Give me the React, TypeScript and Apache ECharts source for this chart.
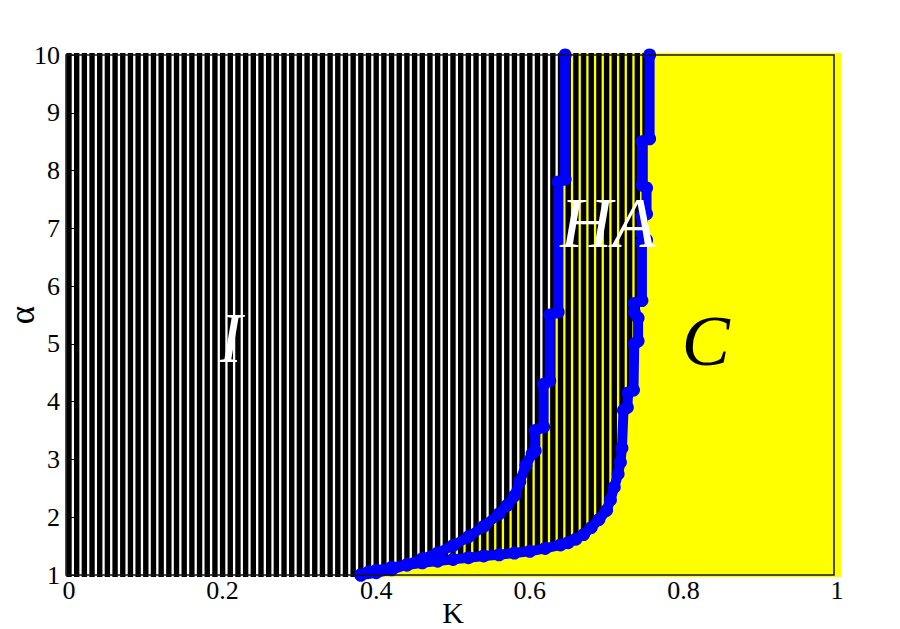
import React, { useEffect, useRef } from "react";
import * as echarts from "echarts";

// ---- data ----
const K_MIN = 0;
const K_MAX = 1;
const ALPHA_MIN = 1;
const ALPHA_MAX = 10;
const K_STEP = 0.01; // sampling step of the K grid (one stripe per sample)
const K_SAMPLES = 101;

// Left boundary (I | HA)
const leftK = [0.38, 0.40, 0.42, 0.44, 0.46, 0.48, 0.50, 0.52, 0.54, 0.56, 0.57, 0.58, 0.587, 0.595, 0.603, 0.607, 0.607, 0.618, 0.618, 0.626, 0.626, 0.637, 0.637, 0.646, 0.646];
const leftAlpha = [1.0, 1.04, 1.09, 1.18, 1.28, 1.38, 1.51, 1.66, 1.84, 2.06, 2.2, 2.37, 2.62, 2.9, 3.1, 3.15, 3.5, 3.56, 4.3, 4.36, 5.5, 5.55, 7.8, 7.85, 10];

// Right boundary (HA | C)
const rightK = [0.38, 0.39, 0.40, 0.42, 0.44, 0.46, 0.48, 0.50, 0.52, 0.54, 0.56, 0.58, 0.60, 0.62, 0.64, 0.65, 0.66, 0.67, 0.68, 0.69, 0.70, 0.705, 0.71, 0.715, 0.718, 0.72, 0.722, 0.727, 0.728, 0.735, 0.736, 0.741, 0.741, 0.736, 0.736, 0.746, 0.746, 0.752, 0.746, 0.746, 0.752, 0.752, 0.746, 0.746, 0.756, 0.756];
const rightAlpha = [1.0, 1.05, 1.08, 1.13, 1.17, 1.21, 1.24, 1.27, 1.30, 1.33, 1.35, 1.38, 1.41, 1.46, 1.52, 1.56, 1.62, 1.70, 1.82, 1.96, 2.12, 2.30, 2.52, 2.75, 2.95, 3.2, 3.85, 3.9, 4.15, 4.2, 5.0, 5.05, 5.45, 5.55, 5.7, 5.75, 6.75, 6.8, 6.9, 7.2, 7.25, 7.7, 7.75, 8.5, 8.55, 10];

// Region labels
const regionText = ["I", "HA", "C"];
const regionK = [0.21, 0.702, 0.829];
const regionAlpha = [5.1, 7.1, 5.05];

const xTickInterval = 0.2;
const yTickInterval = 1;

// ---- derived stripes ----
const kGrid = Array.from({ length: K_SAMPLES }, (_, i) => i / 100);

function blackBottom(k: number): number | null {
  if (k < rightK[0]) return ALPHA_MIN;
  for (let i = 0; i < rightK.length - 1; i++) {
    const a = rightK[i], b = rightK[i + 1];
    if (a <= k && b > k) {
      return rightAlpha[i] + ((k - a) / (b - a)) * (rightAlpha[i + 1] - rightAlpha[i]);
    }
  }
  return null;
}

function yellowTop(k: number): number | null {
  if (k <= leftK[0]) return null;
  for (let i = 0; i < leftK.length - 1; i++) {
    const a = leftK[i], b = leftK[i + 1];
    if (a < k && b >= k) {
      return leftAlpha[i] + ((k - a) / (b - a)) * (leftAlpha[i + 1] - leftAlpha[i]);
    }
  }
  return ALPHA_MAX;
}

const yellowStripes: number[][] = [];
const blackStripes: number[][] = [];
kGrid.forEach((k) => {
  const yt = yellowTop(k);
  if (yt !== null && yt > ALPHA_MIN) yellowStripes.push([k, ALPHA_MIN, yt]);
  const bb = blackBottom(k);
  if (bb !== null && bb < ALPHA_MAX) blackStripes.push([k, bb, ALPHA_MAX]);
});

const makeStripe = (fill: string, widthFrac: number, extra: number) => (params: any, api: any) => {
  const k = api.value(0);
  const lo = api.value(1);
  const hi = api.value(2);
  const pLo = api.coord([k, lo]);
  const pHi = api.coord([k, hi]);
  const w = api.size([K_STEP, 0])[0] * widthFrac + extra;
  const padB = lo <= ALPHA_MIN ? 2 : 0;
  const padT = hi >= ALPHA_MAX ? 2 : 0;
  return {
    type: "rect",
    shape: { x: pLo[0] - w / 2, y: pHi[1] - padT, width: w, height: pLo[1] - pHi[1] + padT + padB },
    style: { fill },
  };
};

const SERIF = "Liberation Serif";

export default function App() {
  const ref = useRef<HTMLDivElement>(null);
  useEffect(() => {
    if (!ref.current) return;
    const chart = echarts.init(ref.current, undefined, { renderer: "svg" });
    chart.setOption({
      animation: false,
      backgroundColor: "#ffffff",
      grid: { left: 69, top: 55, width: 768, height: 520, containLabel: false, outerBoundsMode: "none" },
      xAxis: {
        type: "value",
        min: K_MIN,
        max: K_MAX,
        interval: xTickInterval,
        name: "K",
        nameLocation: "middle",
        nameGap: 22,
        nameMoveOverlap: false,
        nameTextStyle: { fontFamily: SERIF, fontSize: 30, color: "#000", verticalAlign: "top" },
        axisLine: { show: false },
        axisTick: { show: true, inside: true, length: 5, lineStyle: { color: "#000" } },
        splitLine: { show: false },
        axisLabel: { fontFamily: SERIF, fontSize: 26, color: "#000", margin: 2 },
      },
      yAxis: {
        type: "value",
        min: ALPHA_MIN,
        max: ALPHA_MAX,
        interval: yTickInterval,
        name: "α",
        nameLocation: "middle",
        nameGap: 29,
        nameRotate: 90,
        nameMoveOverlap: false,
        nameTextStyle: { fontFamily: SERIF, fontSize: 35, color: "#000" },
        axisLine: { show: false },
        axisTick: { show: true, inside: true, length: 5, lineStyle: { color: "#000" } },
        splitLine: { show: false },
        axisLabel: { fontFamily: SERIF, fontSize: 26, color: "#000", margin: 9 },
      },
      graphic: [
        {
          type: "rect",
          z: 100,
          silent: true,
          shape: { x: 66, y: 55, width: 768, height: 520 },
          style: { fill: "transparent", stroke: "#151515", lineWidth: 1.5 },
        },
      ],
      series: [
        {
          type: "custom",
          name: "C",
          data: yellowStripes,
          encode: { x: 0, y: [1, 2] },
          renderItem: makeStripe("#ffff00", 1, 0.8),
          z: 1,
          silent: true,
        },
        {
          type: "custom",
          name: "I",
          data: blackStripes,
          encode: { x: 0, y: [1, 2] },
          renderItem: makeStripe("#000000", 0.7, 0),
          z: 2,
          silent: true,
        },
        {
          type: "line",
          name: "right",
          data: rightK.map((k, i) => [k, rightAlpha[i]]),
          symbol: "circle",
          symbolSize: 13,
          showAllSymbol: true,
          lineStyle: { color: "#0000ff", width: 10 },
          itemStyle: { color: "#0000ff" },
          z: 5,
          silent: true,
        },
        {
          type: "line",
          name: "left",
          data: leftK.map((k, i) => [k, leftAlpha[i]]),
          symbol: "circle",
          symbolSize: 13,
          showAllSymbol: true,
          lineStyle: { color: "#0000ff", width: 10 },
          itemStyle: { color: "#0000ff" },
          z: 5,
          silent: true,
        },
        {
          type: "scatter",
          name: "labels",
          symbolSize: 0,
          z: 10,
          silent: true,
          itemStyle: { opacity: 1 },
          data: regionText.map((t, i) => ({
            value: [regionK[i], regionAlpha[i]],
            name: t,
            label: { color: i === 2 ? "#000000" : "#ffffff" },
          })),
          label: {
            show: true,
            position: "inside",
            formatter: "{b}",
            fontFamily: SERIF,
            fontStyle: "italic",
            fontSize: 72,
            opacity: 1,
          },
        },
      ],
    });
    return () => chart.dispose();
  }, []);
  return <div ref={ref} style={{ position: "fixed", left: 0, top: 0, width: 900, height: 629 }} />;
}
